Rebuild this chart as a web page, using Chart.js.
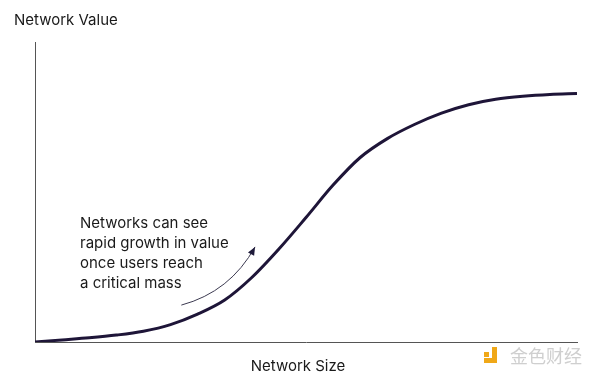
<!DOCTYPE html>
<html>
<head>
<meta charset="utf-8">
<script src="https://cdn.jsdelivr.net/npm/chart.js@4/dist/chart.umd.min.js"></script>
<style>
  html, body { margin: 0; padding: 0; background: #fff; }
  #wrap { width: 600px; height: 379px; position: relative; }
</style>
</head>
<body>
<div id="wrap"><canvas id="networkChart"></canvas></div>
<script>
// network size (x) and network value (y)
const networkSize = [0, 5, 10, 15, 20, 25, 30, 35, 40, 45, 50, 55, 60, 65, 70, 75, 80, 85, 90, 95, 100];
const networkValue = [0, 0.7, 1.4, 2.3, 3.6, 5.8, 9.3, 14, 21.5, 31, 41.5, 52.3, 61.5, 67.8, 72.5, 76.3, 79.1, 80.9, 81.9, 82.5, 82.8];

const yTitle = "Network Value";
const xTitle = "Network Size";
const noteLines = ["Networks can see", "rapid growth in value", "once users reach", "a critical mass"];
// arrow in data units: start, control, end
const arrowPath = [[27, 12.3], [36, 16.7], [40.6, 31.7]];

const FONT = "Inter, 'Open Sans', sans-serif";

const decorations = {
  id: "decorations",
  afterDraw(chart) {
    const { ctx, scales: { x, y } } = chart;
    ctx.save();
    ctx.fillStyle = "#1a1a1a";
    ctx.font = "15px " + FONT;
    ctx.textBaseline = "middle";
    ctx.textAlign = "left";
    ctx.fillText(yTitle, 14, 20);
    ctx.textAlign = "center";
    ctx.fillText(xTitle, 298, 366);

    ctx.textAlign = "left";
    noteLines.forEach((t, i) => ctx.fillText(t, 80, 223 + i * 20));

    // arrow
    const p = arrowPath.map(([a, b]) => [x.getPixelForValue(a), y.getPixelForValue(b)]);
    ctx.strokeStyle = "#3b3950";
    ctx.lineWidth = 1;
    ctx.beginPath();
    ctx.moveTo(p[0][0], p[0][1]);
    ctx.quadraticCurveTo(p[1][0], p[1][1], p[2][0], p[2][1]);
    ctx.stroke();
    const ang = Math.atan2(p[2][1] - p[1][1], p[2][0] - p[1][0]);
    ctx.fillStyle = "#1e1a3a";
    ctx.beginPath();
    ctx.moveTo(p[2][0], p[2][1]);
    ctx.lineTo(p[2][0] - 9 * Math.cos(ang - 0.4), p[2][1] - 9 * Math.sin(ang - 0.4));
    ctx.lineTo(p[2][0] - 9 * Math.cos(ang + 0.4), p[2][1] - 9 * Math.sin(ang + 0.4));
    ctx.closePath();
    ctx.fill();

    // watermark
    ctx.fillStyle = "#f0a818";
    ctx.fillRect(484, 352, 5, 5);
    ctx.fillRect(492, 347, 5, 16);
    ctx.fillRect(484, 358, 13, 5);
    ctx.fillStyle = "#cfcfcf";
    ctx.font = "18px 'Noto Sans CJK SC', sans-serif";
    ctx.textAlign = "left";
    ctx.fillText("金色财经", 510, 356);
    ctx.restore();
  }
};

new Chart(document.getElementById("networkChart"), {
  type: "line",
  data: {
    datasets: [{
      data: networkSize.map((v, i) => ({ x: v, y: networkValue[i] })),
      borderColor: "#1e1538",
      borderWidth: 3,
      pointRadius: 0,
      cubicInterpolationMode: "monotone",
      fill: false
    }]
  },
  options: {
    responsive: true,
    maintainAspectRatio: false,
    animation: false,
    layout: { padding: { left: 35, right: 23, top: 42, bottom: 37 } },
    plugins: { legend: { display: false }, tooltip: { enabled: false } },
    scales: {
      x: {
        type: "linear", min: 0, max: 100,
        ticks: { display: false },
        grid: { display: false, drawTicks: false },
        border: { display: true, color: "#555", width: 1 }
      },
      y: {
        min: 0, max: 100,
        ticks: { display: false },
        grid: { display: false, drawTicks: false },
        border: { display: true, color: "#555", width: 1 }
      }
    }
  },
  plugins: [decorations]
});
</script>
</body>
</html>
